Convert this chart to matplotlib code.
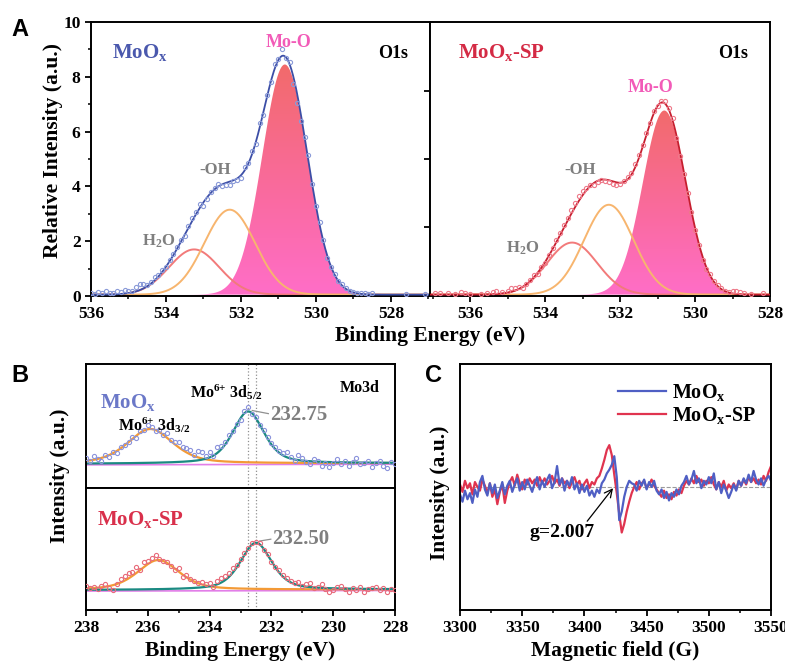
import numpy as np
import matplotlib
matplotlib.use('Agg')
from matplotlib import pyplot as plt
from matplotlib.ticker import MultipleLocator
from matplotlib.colors import LinearSegmentedColormap

#######---------------------- DATA ----------------------

# --- A: O1s fit parameters (centre eV, height, 2*sigma^2), order Mo-O, -OH, H2O
moox_o1s_center = [530.83, 532.30, 533.25]
moox_o1s_height = [8.40, 3.10, 1.65]
moox_o1s_width = [0.72, 0.92, 0.90]
sp_o1s_center = [530.82, 532.30, 533.28]
sp_o1s_height = [6.72, 3.28, 1.90]
sp_o1s_width = [0.66, 0.88, 0.90]
o1s_base = 0.05

# --- A: measured O1s points
moox_o1s_x = list(np.linspace(536.0, 528.5, 76)) + [527.6, 527.1]
moox_o1s_y = [0.12, 0.08, 0.15, 0.10, 0.18, 0.12, 0.10, 0.20, 0.14, 0.22,
              0.18, 0.20, 0.32, 0.42, 0.45, 0.40, 0.52, 0.70, 0.78, 0.95,
              1.05, 1.30, 1.55, 1.80, 2.05, 2.20, 2.55, 2.85, 3.05, 3.35,
              3.30, 3.55, 3.80, 3.95, 4.10, 4.00, 4.05, 4.05, 4.20, 4.25,
              4.30, 4.70, 4.85, 5.30, 5.55, 6.30, 6.60, 7.35, 7.80, 8.45,
              8.65, 9.00, 8.70, 8.55, 7.75, 7.05, 6.40, 5.80, 5.15, 4.10,
              3.30, 2.70, 2.05, 1.40, 1.05, 0.80, 0.55, 0.45, 0.30, 0.18,
              0.15, 0.10, 0.12, 0.10, 0.08, 0.10,
              0.08, 0.07]

sp_o1s_x = ([536.95, 536.8, 536.6, 536.4, 536.25, 536.15, 536.0, 535.7,
             535.55, 535.4, 535.3, 535.15]
            + list(np.linspace(535.0, 528.7, 64)) + [528.5, 528.2])
sp_o1s_y = [0.12, 0.10, 0.10, 0.06, 0.14, 0.10, 0.09, 0.07, 0.12, 0.15, 0.18, 0.14,
            0.20, 0.30, 0.28, 0.32, 0.30, 0.42, 0.60, 0.75, 0.80, 1.05,
            1.20, 1.50, 1.75, 2.05, 2.30, 2.60, 2.85, 3.15, 3.40, 3.65,
            3.85, 3.95, 4.05, 4.05, 4.15, 4.25, 4.20, 4.15, 4.10, 4.05,
            4.10, 4.20, 4.35, 4.50, 4.80, 5.15, 5.50, 5.95, 6.30, 6.75,
            6.95, 7.10, 7.10, 6.85, 6.50, 5.75, 5.10, 4.45, 3.75, 3.05,
            2.40, 1.85, 1.30, 1.00, 0.80, 0.55, 0.40, 0.30, 0.20, 0.15,
            0.18, 0.20, 0.15, 0.12,
            0.08, 0.10]

# --- B: Mo3d fit parameters (centre eV, height, fwhm), order 3d5/2, 3d3/2
moox_mo3d_center = [232.75, 235.92]
moox_mo3d_height = [0.42, 0.28]
moox_mo3d_fwhm = [1.2, 1.75]
moox_mo3d_base = [0.195, 0.20]   # background at 238 / 228 eV
sp_mo3d_center = [232.50, 235.66]
sp_mo3d_height = [0.385, 0.245]
sp_mo3d_fwhm = [1.2, 1.6]
sp_mo3d_base = [0.163, 0.168]

moox_mo3d_y = [0.24, 0.22, 0.26, 0.23, 0.22, 0.27, 0.25, 0.29, 0.28, 0.33,
               0.35, 0.37, 0.41, 0.40, 0.46, 0.47, 0.51, 0.49, 0.46, 0.47,
               0.43, 0.44, 0.39, 0.37, 0.37, 0.33, 0.32, 0.31, 0.27, 0.30,
               0.29, 0.26, 0.29, 0.26, 0.33, 0.34, 0.37, 0.43, 0.46, 0.52,
               0.55, 0.62, 0.65, 0.60, 0.57, 0.51, 0.47, 0.41, 0.36, 0.33,
               0.30, 0.28, 0.29, 0.25, 0.22, 0.27, 0.24, 0.21, 0.19, 0.23,
               0.22, 0.18, 0.20, 0.17, 0.20, 0.23, 0.19, 0.22, 0.18, 0.21,
               0.24, 0.19, 0.20, 0.22, 0.17, 0.20, 0.22, 0.18, 0.16, 0.21,
               0.19]
sp_mo3d_y = [0.20, 0.18, 0.19, 0.17, 0.20, 0.21, 0.18, 0.16, 0.21, 0.25,
             0.28, 0.30, 0.31, 0.35, 0.33, 0.39, 0.40, 0.43, 0.45, 0.42,
             0.40, 0.39, 0.36, 0.33, 0.34, 0.27, 0.29, 0.25, 0.24, 0.22,
             0.23, 0.21, 0.22, 0.19, 0.24, 0.26, 0.28, 0.30, 0.34, 0.37,
             0.42, 0.47, 0.51, 0.55, 0.56, 0.55, 0.49, 0.46, 0.39, 0.35,
             0.33, 0.29, 0.26, 0.24, 0.22, 0.23, 0.20, 0.21, 0.22, 0.18,
             0.19, 0.21, 0.17, 0.15, 0.16, 0.19, 0.20, 0.17, 0.15, 0.18,
             0.16, 0.19, 0.15, 0.17, 0.18, 0.19, 0.16, 0.18, 0.15, 0.17,
             0.16]

# --- C: EPR spectra, 3300-3550 G every 2 G
epr_field = np.arange(3300, 3551, 2)
epr_moox = [-0.06, -0.12, -0.03, -0.10, -0.05, -0.13, -0.02, -0.08, 0.04, 0.09,
            -0.02, -0.07, 0.03, -0.05, 0.02, -0.09, -0.03, 0.04, -0.06, 0.01,
            0.05, -0.04, 0.02, 0.07, -0.03, 0.04, -0.02, 0.06, 0.01, -0.04,
            0.03, 0.08, -0.02, 0.05, 0.00, 0.06, 0.10, -0.01, 0.04, 0.17,
            0.02, 0.07, -0.03, 0.05, 0.01, 0.08, -0.02, 0.03, -0.05, 0.02,
            -0.04, 0.01, -0.07, -0.03, -0.08, -0.02, -0.05, 0.03, 0.06, 0.11,
            0.14, 0.18, 0.25, 0.08, -0.27, -0.20, -0.08, 0.00, 0.05, 0.03,
            0.02, -0.03, 0.05, 0.01, 0.06, -0.02, 0.04, 0.00, 0.05, -0.03,
            -0.06, -0.02, -0.09, -0.04, -0.11, -0.05, -0.08, -0.02, -0.06, 0.01,
            0.04, 0.09, 0.02, 0.06, 0.13, 0.03, 0.07, -0.01, 0.05, 0.02,
            0.08, 0.03, 0.11, -0.02, 0.04, -0.05, 0.02, -0.03, -0.09, -0.04,
            0.02, -0.03, 0.05, 0.01, 0.07, 0.03, 0.10, 0.04, 0.13, 0.06,
            0.02, 0.07, 0.01, 0.06, 0.09, 0.05]
epr_sp = [0.02, -0.04, 0.05, -0.01, 0.03, -0.06, 0.04, 0.00, -0.03, 0.06,
          0.01, -0.05, 0.03, -0.08, -0.02, -0.14, -0.04, 0.02, -0.13, -0.03,
          0.04, 0.08, 0.01, 0.10, 0.03, -0.02, 0.06, 0.02, 0.07, 0.03,
          0.06, 0.01, 0.08, 0.03, 0.07, 0.02, 0.05, 0.09, 0.03, 0.06,
          0.01, 0.07, 0.03, 0.05, -0.01, 0.04, 0.08, 0.02, 0.05, -0.02,
          0.03, 0.06, -0.01, 0.04, 0.02, 0.07, 0.09, 0.15, 0.22, 0.30,
          0.34, 0.26, 0.10, -0.05, -0.22, -0.37, -0.30, -0.20, -0.12, -0.05,
          0.00, 0.04, -0.02, 0.03, 0.05, -0.01, 0.02, 0.06, 0.01, -0.02,
          -0.05, -0.08, -0.03, -0.09, -0.06, -0.10, -0.04, -0.07, -0.02, -0.05,
          0.01, 0.05, 0.02, 0.07, 0.03, 0.09, 0.04, 0.06, 0.01, 0.05,
          0.03, 0.08, 0.02, -0.02, 0.04, 0.00, 0.05, -0.03, 0.02, -0.01,
          0.03, -0.02, 0.05, 0.01, 0.06, 0.02, 0.08, 0.04, 0.07, 0.03,
          0.06, 0.02, 0.09, 0.05, 0.12, 0.17]

#######---------------------- STYLE ----------------------

plt.rcParams['font.family'] = 'Liberation Serif'
plt.rcParams['font.weight'] = 'bold'
plt.rcParams['axes.labelweight'] = 'bold'
plt.rcParams['mathtext.fontset'] = 'custom'
plt.rcParams['mathtext.rm'] = 'Liberation Serif:bold'
plt.rcParams['mathtext.bf'] = 'Liberation Serif:bold'
plt.rcParams['mathtext.it'] = 'Liberation Serif:bold'
plt.rcParams['mathtext.default'] = 'regular'
plt.rcParams['axes.linewidth'] = 1.4
plt.rcParams['xtick.major.width'] = 1.3
plt.rcParams['ytick.major.width'] = 1.3
plt.rcParams['xtick.minor.width'] = 1.1
plt.rcParams['ytick.minor.width'] = 1.1
plt.rcParams['xtick.major.size'] = 4
plt.rcParams['ytick.major.size'] = 4
plt.rcParams['xtick.minor.size'] = 2.5
plt.rcParams['ytick.minor.size'] = 2.5
plt.rcParams['xtick.labelsize'] = 12.5
plt.rcParams['ytick.labelsize'] = 12.5

mo_cmap = LinearSegmentedColormap.from_list('moo', ['#ff6ec8', '#f96a9a', '#f26b6b'])
gray = '#7f7f7f'
lab_fs = 15.5


def gauss(x, c, h, w):
    return h * np.exp(-(x - c) ** 2 / w)


def pvoigt(x, c, h, fwhm):
    g = np.exp(-4 * np.log(2) * (x - c) ** 2 / fwhm ** 2)
    l = 1 / (1 + 4 * (x - c) ** 2 / fwhm ** 2)
    return h * (0.5 * g + 0.5 * l)


def o1s_panel(ax, xlim, centers, heights, widths, px, py, line_c, pt_c):
    x = np.linspace(xlim[0], xlim[1], 600)
    comps = [gauss(x, c, h, w) for c, h, w in zip(centers, heights, widths)]
    base = np.full_like(x, o1s_base)
    poly = ax.fill_between(x, base, base + comps[0], facecolor='none', edgecolor='none')
    grad = np.linspace(0, 1, 256).reshape(-1, 1)
    im = ax.imshow(grad, extent=[xlim[0], xlim[1], 0, heights[0] + o1s_base],
                   origin='lower', aspect='auto', cmap=mo_cmap, zorder=1)
    im.set_clip_path(poly.get_paths()[0], transform=ax.transData)
    ax.plot(x, base + comps[2], color='#f27a7a', lw=1.4, zorder=2)
    ax.plot(x, base + comps[1], color='#f7b56e', lw=1.4, zorder=2)
    ax.plot(x, base + comps[0] + comps[1] + comps[2], color=line_c, lw=1.3, zorder=3)
    ax.plot(px, py, 'o', mfc='none', mec=pt_c, ms=3, mew=0.8, zorder=4)
    ax.set_xlim(xlim)
    ax.set_ylim(0, 10)
    ax.set_xticks([536, 534, 532, 530, 528])
    ax.xaxis.set_minor_locator(MultipleLocator(1))


fig = plt.figure(figsize=(7.85, 6.61), dpi=100)

###------------ A ------------
axA1 = fig.add_axes([0.1159, 0.5522, 0.4318, 0.4145])
axA2 = fig.add_axes([0.5478, 0.5522, 0.4331, 0.4145])

o1s_panel(axA1, (536, 526.96), moox_o1s_center, moox_o1s_height, moox_o1s_width,
          moox_o1s_x, moox_o1s_y, '#3c4ea6', '#8a9ad8')
o1s_panel(axA2, (537.07, 528), sp_o1s_center, sp_o1s_height, sp_o1s_width,
          sp_o1s_x, sp_o1s_y, '#c61e2e', '#ee7a8a')

axA1.set_yticks(range(0, 11, 2))
axA1.yaxis.set_minor_locator(MultipleLocator(1))
axA2.set_yticks([2.5, 5, 7.5])
axA2.set_yticklabels([])

axA1.text(535.45, 8.9, 'MoO$_x$', color='#4a58ad', fontsize=15, va='center')
axA1.text(530.72, 9.27, 'Mo-O', color='#f25bb8', fontsize=13, ha='center', va='center')
axA1.text(527.55, 8.85, 'O1s', color='black', fontsize=13, ha='right', va='center')
axA1.text(532.7, 4.6, '-OH', color=gray, fontsize=12, ha='center', va='center')
axA1.text(534.2, 2.0, 'H$_2$O', color=gray, fontsize=12, ha='center', va='center')

axA2.text(536.32, 8.9, 'MoO$_x$-SP', color='#d42a44', fontsize=15, va='center')
axA2.text(528.59, 8.85, 'O1s', color='black', fontsize=13, ha='right', va='center')
axA2.text(531.2, 7.6, 'Mo-O', color='#f25bb8', fontsize=13, ha='center', va='center')
axA2.text(533.07, 4.6, '-OH', color=gray, fontsize=12, ha='center', va='center')
axA2.text(534.59, 1.75, 'H$_2$O', color=gray, fontsize=12, ha='center', va='center')

fig.text(0.548, 0.492, 'Binding Energy (eV)', fontsize=lab_fs, ha='center', va='center')
fig.text(0.068, 0.773, 'Relative Intensity (a.u.)', fontsize=lab_fs, rotation=90,
         ha='center', va='center')

###------------ B ------------
axB1 = fig.add_axes([0.1096, 0.2617, 0.3936, 0.1876])
axB2 = fig.add_axes([0.1096, 0.0772, 0.3936, 0.1846])

xb = np.linspace(238, 228, 500)
for ax, cen, hgt, fw, bse, pts, pt_c in [
        (axB1, moox_mo3d_center, moox_mo3d_height, moox_mo3d_fwhm, moox_mo3d_base, moox_mo3d_y, '#8b93dc'),
        (axB2, sp_mo3d_center, sp_mo3d_height, sp_mo3d_fwhm, sp_mo3d_base, sp_mo3d_y, '#e86b7b')]:
    bg = np.interp(xb, [228, 238], [bse[1], bse[0]])
    ax.plot(xb, bg - 0.008, color='#e27ee8', lw=1.2, zorder=1)
    ax.plot(xb, bg + pvoigt(xb, cen[1], hgt[1], fw[1]), color='#f39a36', lw=1.6, zorder=2)
    ax.plot(xb, bg + pvoigt(xb, cen[0], hgt[0], fw[0]), color='#1b8a82', lw=1.6, zorder=2)
    ax.plot(np.linspace(238, 228, len(pts)), pts, 'o', mfc='none', mec=pt_c, ms=3,
            mew=0.8, zorder=3)
    ax.axvline(232.75, color='#909090', ls=':', lw=0.9, zorder=0)
    ax.axvline(232.50, color='#909090', ls=':', lw=0.9, zorder=0)
    ax.set_xlim(238, 228)
    ax.set_ylim(0, 1)
    ax.set_yticks([])
    ax.set_xticks(range(238, 227, -2))
    ax.xaxis.set_minor_locator(MultipleLocator(1))

axB1.tick_params(axis='x', which='both', bottom=False, labelbottom=False)
axB2.set_xlabel('Binding Energy (eV)', fontsize=lab_fs, labelpad=3)
fig.text(0.077, 0.28, 'Intensity (a.u.)', fontsize=lab_fs, rotation=90,
         ha='center', va='center')

axB1.text(237.55, 0.69, 'MoO$_x$', color='#6b78c8', fontsize=15, va='center')
axB1.text(234.63, 0.77, 'Mo$^{6{+}}$ 3d$_{5/2}$', fontsize=11.5, va='center')
axB1.text(236.96, 0.51, 'Mo$^{6{+}}$ 3d$_{3/2}$', fontsize=11.5, va='center')
axB1.text(229.78, 0.81, 'Mo3d', fontsize=11.5, va='center')
axB1.plot([232.62, 232.1], [0.625, 0.60], color='#909090', lw=0.9)
axB1.text(232.05, 0.59, '232.75', color=gray, fontsize=15, va='center')

axB2.text(237.64, 0.74, 'MoO$_x$-SP', color='#d9304b', fontsize=15, va='center')
axB2.plot([232.38, 232.02], [0.565, 0.58], color='#909090', lw=0.9)
axB2.text(231.98, 0.58, '232.50', color=gray, fontsize=15, va='center')

###------------ C ------------
axC = fig.add_axes([0.586, 0.0772, 0.3962, 0.3722])
axC.axhline(0, color='#9a9a9a', ls='--', lw=0.8, zorder=0)
axC.plot(epr_field, epr_moox, color='#4f5fc4', lw=1.6, label='MoO$_x$', zorder=2)
axC.plot(epr_field, epr_sp, color='#e0344f', lw=1.6, label='MoO$_x$-SP', zorder=1)
axC.set_xlim(3300, 3550)
axC.set_ylim(-1, 1)
axC.set_yticks([])
axC.set_xticks(range(3300, 3551, 50))
axC.xaxis.set_minor_locator(MultipleLocator(25))
axC.set_xlabel('Magnetic field (G)', fontsize=lab_fs, labelpad=3)
fig.text(0.56, 0.254, 'Intensity (a.u.)', fontsize=lab_fs, rotation=90,
         ha='center', va='center')
axC.legend(loc='upper left', bbox_to_anchor=(0.45, 1.0), frameon=False, fontsize=14.5,
           handlelength=2.4, labelspacing=0.12, handletextpad=0.3)
axC.annotate('g=2.007', xy=(3423, -0.01), xytext=(3356, -0.37), fontsize=14,
             va='center', arrowprops=dict(arrowstyle='->', color='black', lw=0.9,
                                          shrinkA=0, shrinkB=0, relpos=(0.85, 1.0)))

###------------ panel letters ------------
for lab, xx, yy in [('A', 0.015, 0.955), ('B', 0.015, 0.432), ('C', 0.541, 0.432)]:
    fig.text(xx, yy, lab, fontsize=17, fontweight='bold', family='Liberation Sans',
             ha='left', va='center')

plt.savefig('out.png', dpi=100)
